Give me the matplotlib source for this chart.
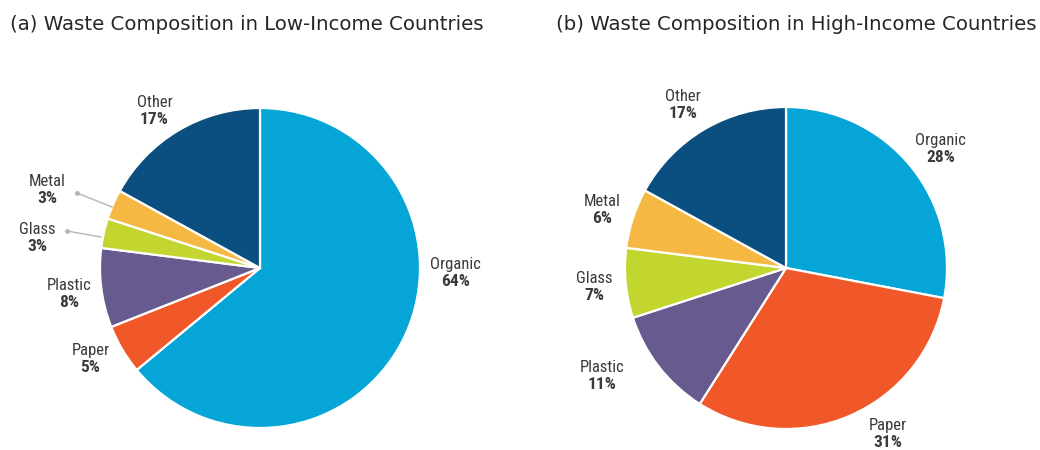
import numpy as np
import matplotlib.pyplot as plt
from matplotlib import font_manager

# ---------- Data ----------
categories = ["Organic", "Paper", "Plastic", "Glass", "Metal", "Other"]
low_income = [64, 5, 8, 3, 3, 17]
high_income = [28, 31, 11, 7, 6, 17]
colors = ["#05A5D8", "#F0582A", "#675A8E", "#C3D62F", "#F4B843", "#0B4F80"]

titles = ["(a) Waste Composition in Low-Income Countries",
          "(b) Waste Composition in High-Income Countries"]

# label placement (offsets in units of radius), per pie
low_label_pos = [(1.22, -0.03), (-1.06, -0.57), (-1.19, -0.16),
                 (-1.39, 0.19), (-1.33, 0.49), (-0.66, 0.98)]
high_label_pos = [(0.96, 0.74), (0.63, -1.03), (-1.14, -0.67),
                  (-1.19, -0.12), (-1.14, 0.36), (-0.64, 1.01)]

# ---------- Fonts ----------
# look for a condensed face; fall back to DejaVu Sans
label_family, label_stretch = "DejaVu Sans", "normal"
for f in font_manager.fontManager.ttflist:
    if f.name in ("Liberation Sans Narrow", "Roboto Condensed", "Open Sans Condensed"):
        label_family, label_stretch = f.name, "normal"
        break
else:
    for f in font_manager.fontManager.ttflist:
        if f.name in ("DejaVu Sans", "Roboto", "Open Sans", "Noto Sans") and \
                str(f.stretch) in ("condensed", "semi-condensed", "extra-condensed"):
            label_family, label_stretch = f.name, f.stretch
            break

W, H = 1040, 450
fig = plt.figure(figsize=(W / 100, H / 100), dpi=100)
ax = fig.add_axes([0, 0, 1, 1])
ax.set_xlim(0, W)
ax.set_ylim(0, H)
ax.set_aspect("equal")
ax.set_axis_off()

label_color = "#3a3a3a"


def draw_pie(values, center, radius, label_pos, leaders=()):
    ax.pie(values, colors=colors, startangle=90, counterclock=False,
           center=center, radius=radius, frame=True,
           wedgeprops=dict(edgecolor="white", linewidth=1.6))
    cx, cy = center
    for i, (name, v) in enumerate(zip(categories, values)):
        fx, fy = label_pos[i]
        x, y = cx + fx * radius, cy + fy * radius
        ax.text(x, y + 1, name, ha="center", va="bottom", fontsize=12,
                family=label_family, stretch=label_stretch, color=label_color)
        ax.text(x, y - 1, f"{v}%", ha="center", va="top", fontsize=12.5,
                family=label_family, stretch=label_stretch, weight="bold",
                color=label_color)
    for (p0, p1) in leaders:
        ax.plot([p0[0], p1[0]], [p0[1], p1[1]], color="#b5b5b5", lw=1)
        ax.plot(p0[0], p0[1], "o", color="#b5b5b5", ms=2.5)


# leader lines for small slices in the low-income pie (pixel coords, y up)
low_leaders = [((77, H - 193), (112, H - 207)),
               ((67, H - 231), (101, H - 237))]

draw_pie(low_income, (260, H - 268), 160, low_label_pos, low_leaders)
draw_pie(high_income, (786, H - 268), 161, high_label_pos)

ax.set_xlim(0, W)
ax.set_ylim(0, H)

fig.text(10 / W, 1 - 30 / H, titles[0], ha="left", va="baseline",
         fontsize=14.2, family="DejaVu Sans", color="#262626")
fig.text(556 / W, 1 - 30 / H, titles[1], ha="left", va="baseline",
         fontsize=14.2, family="DejaVu Sans", color="#262626")

fig.savefig("out.png", dpi=100)
